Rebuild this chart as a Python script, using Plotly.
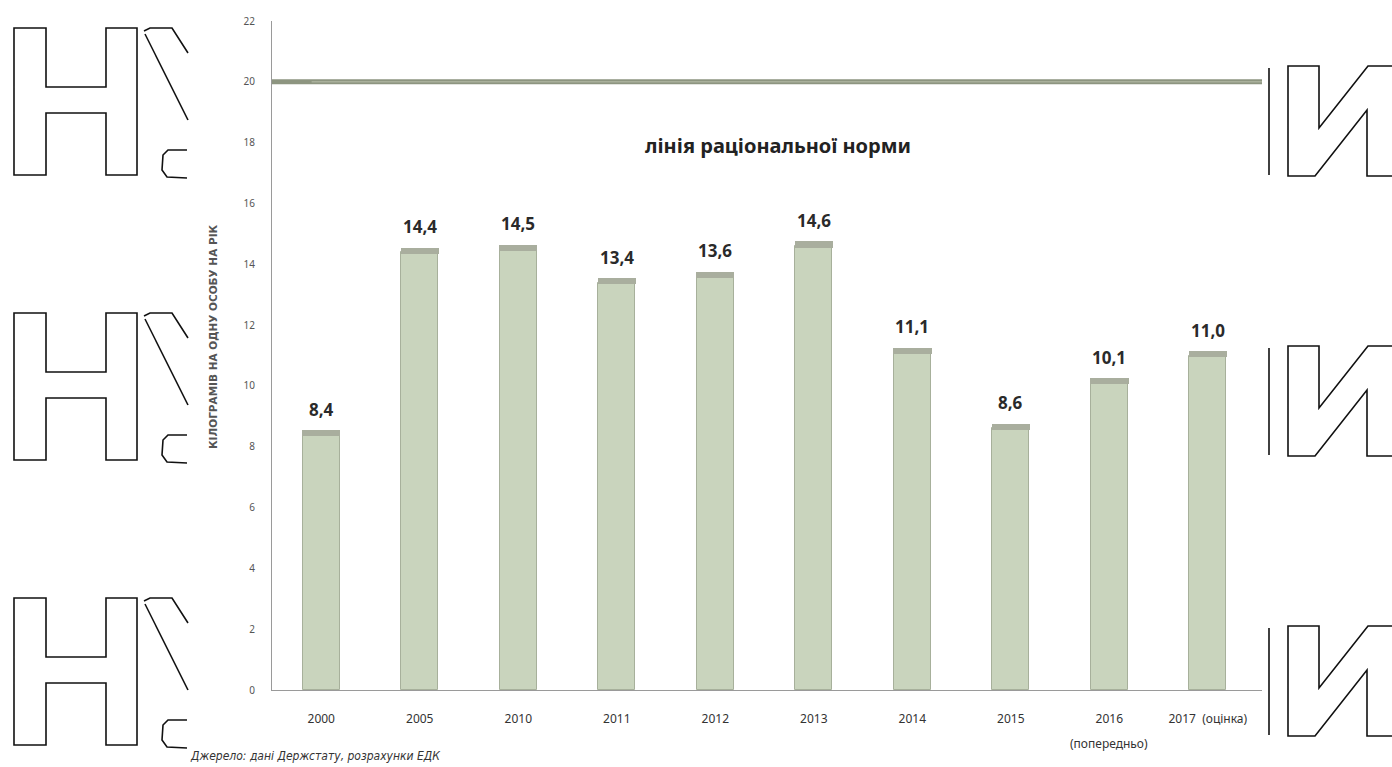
import plotly.graph_objects as go

# ---- data ----
categories = ["2000", "2005", "2010", "2011", "2012", "2013", "2014", "2015", "2016", "2017  (оцінка)"]
sub_labels = ["", "", "", "", "", "", "", "", "(попередньо)", ""]
values = [8.4, 14.4, 14.5, 13.4, 13.6, 14.6, 11.1, 8.6, 10.1, 11.0]
value_labels = ["8,4", "14,4", "14,5", "13,4", "13,6", "14,6", "11,1", "8,6", "10,1", "11,0"]
norm_value = 20
norm_label = "лінія раціональної норми"
y_ticks = [0, 2, 4, 6, 8, 10, 12, 14, 16, 18, 20, 22]
y_title = "КІЛОГРАМІВ НА ОДНУ ОСОБУ НА РІК"
source_text = "Джерело: дані Держстату, розрахунки ЕДК"

# ---- layout geometry (pixels) ----
W, H = 1392, 767
ML, MR, MT, MB = 272, 130, 21, 77
PW, PH = W - ML - MR, H - MT - MB

def px(x):
    return (x - ML) / PW

def py(y):
    return (H - MB - y) / PH

xs = list(range(len(categories)))

fig = go.Figure()
fig.add_trace(go.Bar(
    x=xs, y=values, width=0.375,
    marker=dict(color="#c9d4bd", line=dict(color="#a7b09b", width=1)),
    hoverinfo="skip", showlegend=False,
))
# darker cap at the top of each bar
fig.add_trace(go.Bar(
    x=xs, y=[0.2] * len(values), base=[v - 0.05 for v in values], width=0.39,
    marker=dict(color="#a9ae9e", line=dict(width=0)),
    hoverinfo="skip", showlegend=False,
))

annotations = []
for x, v, lab in zip(xs, values, value_labels):
    annotations.append(dict(x=x, y=v, text="<b>" + lab + "</b>", showarrow=False, yanchor="bottom",
                            yshift=12, font=dict(family="Noto Sans", size=17, color="#2a2a2a"),
                            xref="x", yref="y"))
for x, lab in zip(xs, sub_labels):
    if lab:
        annotations.append(dict(x=x, y=py(743), xref="x", yref="paper", text=lab, showarrow=False,
                                yanchor="middle", font=dict(family="Noto Sans", size=12, color="#333")))
annotations.append(dict(x=4.64, y=17.9, text="<b>" + norm_label + "</b>", showarrow=False,
                        font=dict(family="Noto Sans", size=20, color="#222"), xref="x", yref="y"))
annotations.append(dict(x=px(205), y=py(337), xref="paper", yref="paper", text="<b>" + y_title + "</b>",
                        textangle=-90, showarrow=False,
                        font=dict(family="DejaVu Sans", size=10.5, color="#555")))
annotations.append(dict(x=px(188), y=py(756), xref="paper", yref="paper", text="<i>" + source_text + "</i>",
                        showarrow=False, xanchor="left", yanchor="middle",
                        font=dict(family="DejaVu Sans Condensed, DejaVu Sans", size=12, color="#333")))

shapes = []
# rational norm line
shapes.append(dict(type="line", xref="paper", yref="y", x0=0, x1=1.0, y0=norm_value, y1=norm_value,
                   line=dict(color="#8d9580", width=5), layer="above"))
shapes.append(dict(type="line", xref="paper", yref="y", x0=0.04, x1=1.0, y0=norm_value, y1=norm_value,
                   line=dict(color="#a9b09b", width=1.5), layer="above"))

# decorative logo outlines (pixel geometry)
def path_from(points, close=False):
    s = "M " + " L ".join(f"{px(a):.5f},{py(b):.5f}" for a, b in points)
    return s + (" Z" if close else "")

logo_style = dict(type="path", xref="paper", yref="paper", line=dict(color="#111", width=1.6), layer="above")
for dy in (0, 285, 570):
    h_pts = [(14, 28), (46, 28), (46, 87), (106, 87), (106, 28), (137, 28), (137, 175), (106, 175),
             (106, 113), (46, 113), (46, 175), (14, 175)]
    shapes.append(dict(logo_style, path=path_from([(a, b + dy) for a, b in h_pts], close=True)))
    shapes.append(dict(logo_style, path=path_from([(a, b + dy) for a, b in
                                                   [(144, 31), (150, 28), (172, 28), (188, 53)]])))
    shapes.append(dict(logo_style, path=path_from([(a, b + dy) for a, b in [(145, 34), (188, 120)]])))
    shapes.append(dict(logo_style, path=path_from([(a, b + dy) for a, b in
                                                   [(187, 150), (168, 150), (163, 155), (162, 170),
                                                    (167, 177), (187, 178)]])))
for dy in (0, 280, 560):
    shapes.append(dict(logo_style, path=path_from([(1269, 68 + dy), (1269, 175 + dy)])))
    shapes.append(dict(logo_style, path=path_from([(a, b + dy) for a, b in
                                                   [(1392, 66), (1368, 66), (1319, 128), (1319, 66),
                                                    (1288, 66), (1288, 176), (1315, 176), (1367, 110),
                                                    (1367, 176), (1392, 176)]])))

fig.update_layout(
    width=W, height=H,
    margin=dict(l=ML, r=MR, t=MT, b=MB),
    paper_bgcolor="white", plot_bgcolor="white",
    barmode="overlay", bargap=0,
    showlegend=False,
    annotations=annotations, shapes=shapes,
    xaxis=dict(range=[-0.5, 9.55], tickmode="array", tickvals=xs, ticktext=categories,
               showgrid=False, zeroline=False, showline=True, linecolor="#9a9a9a", linewidth=1,
               ticks="", ticklabelstandoff=18, tickfont=dict(family="Noto Sans", size=12, color="#333")),
    yaxis=dict(range=[0, 22], tickmode="array", tickvals=y_ticks, showgrid=False, zeroline=False,
               showline=True, linecolor="#9a9a9a", linewidth=1, ticks="", ticklabelstandoff=14,
               tickfont=dict(family="Noto Sans", size=10, color="#555")),
)

fig.write_html("out.html")
